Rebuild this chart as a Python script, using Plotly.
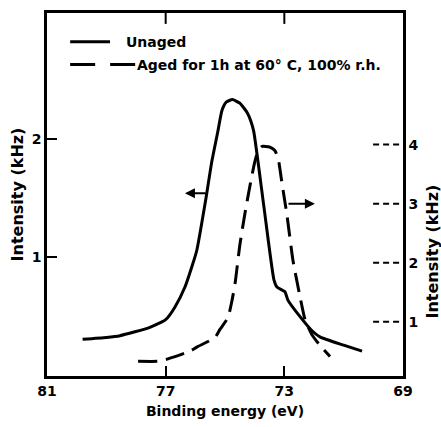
import plotly.graph_objects as go

# ---- data ----
unaged_ev = [79.8, 79.0, 78.54, 77.53, 77.0, 76.69, 76.35, 76.08, 75.95, 75.64, 75.45, 75.25, 75.1,
             74.95, 74.75, 74.5, 74.25, 74.13, 74.03, 73.69, 73.35, 73.25, 72.98, 72.88, 72.47, 72.1,
             71.8, 71.0, 70.38]
unaged_int = [0.31, 0.325, 0.34, 0.41, 0.475, 0.58, 0.75, 0.95, 1.06, 1.50, 1.80, 2.05, 2.24,
              2.31, 2.33, 2.30, 2.22, 2.15, 2.06, 1.43, 0.81, 0.75, 0.71, 0.64, 0.50, 0.39,
              0.33, 0.26, 0.21]

aged_ev = [77.93, 77.26, 76.92, 76.18, 75.95, 75.34, 75.17, 74.9, 74.76, 74.66, 74.5, 74.33, 74.16,
           74.0, 73.88, 73.75, 73.5, 73.32, 73.21, 73.08, 72.91, 72.71, 72.47, 72.3, 72.07, 71.8, 71.46]
aged_int = [0.33, 0.33, 0.37, 0.50, 0.57, 0.73, 0.87, 1.07, 1.37, 1.65, 2.30, 2.83, 3.30,
            3.70, 3.90, 3.97, 3.96, 3.90, 3.77, 3.35, 2.80, 2.04, 1.42, 1.03, 0.78, 0.60, 0.41]

x_ticks = [81, 77, 73, 69]
x_minor_ticks = [77, 73]
left_ticks = [1, 2]
right_ticks = [1, 2, 3, 4]

series_names = ["Unaged", "Aged for 1h at 60° C, 100% r.h."]

# arrows: (tail_x, head_x, y)
left_arrow = (75.60, 76.35, 1.54)
right_arrow = (72.91, 71.97, 3.0)

FONT = "DejaVu Sans"
BOLD = dict(family=FONT, size=14, color="black", weight="bold")

def bold_labels(vals):
    return ["<b>%s</b>" % v for v in vals]

fig = go.Figure()
fig.add_trace(go.Scatter(x=unaged_ev, y=unaged_int, mode="lines", name=series_names[0],
                         line=dict(color="black", width=3, shape="spline", smoothing=0.5)))
fig.add_trace(go.Scatter(x=aged_ev, y=aged_int, mode="lines", name=series_names[1],
                         yaxis="y2",
                         line=dict(color="black", width=3, dash="19px,9px", shape="spline", smoothing=0.5)))

# dashed ticks of the right axis (inside)
for t in right_ticks:
    fig.add_shape(type="line", xref="paper", yref="y2", x0=0.916, x1=1.0, y0=t, y1=t,
                  line=dict(color="black", width=2, dash="6px,4px"))
# inside ticks on the top edge
for t in x_minor_ticks:
    fig.add_shape(type="line", xref="x", yref="paper", x0=t, x1=t, y0=1.0, y1=0.97,
                  line=dict(color="black", width=2))

for tail, head, yv, yr in [(left_arrow[0], left_arrow[1], left_arrow[2], "y"),
                           (right_arrow[0], right_arrow[1], right_arrow[2], "y2")]:
    fig.add_annotation(x=head, y=yv, ax=tail, ay=yv, xref="x", yref=yr, axref="x", ayref=yr,
                       showarrow=True, arrowhead=2, arrowsize=1, arrowwidth=2, arrowcolor="black", text="")

# manual legend
fig.add_shape(type="line", xref="paper", yref="paper", x0=0.065, x1=0.177, y0=0.921, y1=0.921,
              line=dict(color="black", width=3))
fig.add_shape(type="line", xref="paper", yref="paper", x0=0.065, x1=0.250, y0=0.858, y1=0.858,
              line=dict(color="black", width=3, dash="25px,15px"))
fig.add_annotation(text=series_names[0], xref="paper", yref="paper", x=0.217, y=0.921,
                   xanchor="left", yanchor="middle", showarrow=False, font=BOLD)
fig.add_annotation(text=series_names[1], xref="paper", yref="paper", x=0.248, y=0.858,
                   xanchor="left", yanchor="middle", showarrow=False, font=BOLD)

fig.add_annotation(text="Intensity (kHz)", xref="paper", yref="paper", x=1.0, y=0.343,
                   xshift=29, textangle=-90, showarrow=False,
                   font=dict(family=FONT, size=16, color="black", weight="bold"),
                   xanchor="center", yanchor="middle")

fig.update_layout(
    width=441, height=427,
    margin=dict(l=47, r=38, t=10, b=50),
    plot_bgcolor="white", paper_bgcolor="white",
    font=BOLD,
    showlegend=False,
    xaxis=dict(range=[81, 69], tickvals=x_ticks, ticktext=bold_labels(x_ticks),
               showline=True, linecolor="black", linewidth=2.5, mirror=True,
               ticks="inside", ticklen=10, tickwidth=2, tickcolor="black", showgrid=False, zeroline=False,
               tickfont=BOLD,
               title=dict(text="Binding energy (eV)", standoff=9, font=BOLD)),
    yaxis=dict(range=[0, 3.06], tickvals=left_ticks, ticktext=bold_labels(left_ticks),
               showline=True, linecolor="black", linewidth=2.5,
               mirror=True, ticks="inside", ticklen=10, tickwidth=2, tickcolor="black",
               showgrid=False, zeroline=False, tickfont=BOLD,
               title=dict(text="Intensity (kHz)", standoff=5,
                          font=dict(family=FONT, size=16, color="black", weight="bold"))),
    yaxis2=dict(range=[0.08, 6.23], overlaying="y", side="right", tickvals=right_ticks,
                ticktext=bold_labels(right_ticks),
                showline=True, linecolor="black", linewidth=2.5, ticks="", showgrid=False,
                zeroline=False, ticklabelstandoff=0, tickfont=BOLD),
)

fig.write_html("out.html")
